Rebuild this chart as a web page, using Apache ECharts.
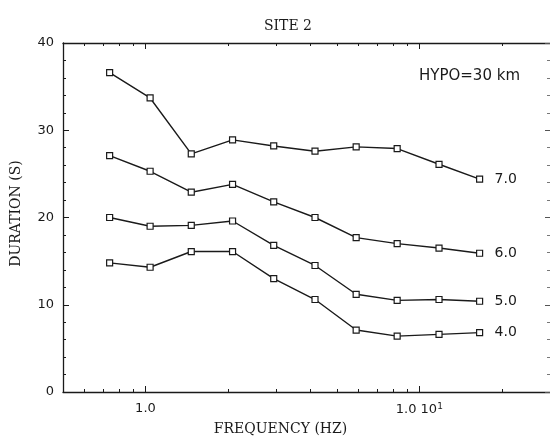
<!DOCTYPE html>
<html>
<head>
<meta charset="utf-8">
<script src="https://cdn.jsdelivr.net/npm/echarts@6/dist/echarts.min.js"></script>
<style>html,body{margin:0;padding:0;background:#fff;}#c{width:550px;height:443px;}</style>
</head>
<body>
<div id="c"></div>
<script>
// Frequencies (Hz)
var freqs = [0.74, 1.04, 1.47, 2.08, 2.94, 4.16, 5.88, 8.3, 11.8, 16.6];
// Magnitudes
var magLabels = ['7.0', '6.0', '5.0', '4.0'];
// Durations (s)
var dur70 = [36.6, 33.7, 27.3, 28.9, 28.2, 27.6, 28.1, 27.9, 26.1, 24.4];
var dur60 = [27.1, 25.3, 22.9, 23.8, 21.8, 20.0, 17.7, 17.0, 16.5, 15.9];
var dur50 = [20.0, 19.0, 19.1, 19.6, 16.8, 14.5, 11.2, 10.5, 10.6, 10.4];
var dur40 = [14.8, 14.3, 16.1, 16.1, 13.0, 10.6, 7.1, 6.4, 6.6, 6.8];
// Axis ticks
var xMajorTicks = [1, 10];
var xMinorTicks = [0.6, 0.7, 0.8, 0.9, 2, 3, 4, 5, 6, 7, 8, 9, 20];

var ink = '#1a1a1a';
var serif = '"DejaVu Serif", "Liberation Serif", serif';
var sans = '"DejaVu Sans", "Liberation Sans", sans-serif';

function pairs(ys) { return freqs.map(function (f, i) { return [f, ys[i]]; }); }
var allDur = [dur70, dur60, dur50, dur40];

var chart = echarts.init(document.getElementById('c'), null, {renderer: 'canvas'});

function xAxisDef(grid, pos, ticks, len, showLabel, showLine) {
  return {
    type: 'log', logBase: 10, min: 0.5, max: 30, position: pos, gridIndex: grid,
    axisLine: {show: showLine, onZero: false, lineStyle: {color: ink, width: 1.3}},
    axisTick: {show: true, inside: true, length: len, customValues: ticks, lineStyle: {color: ink, width: 1}},
    axisLabel: {show: showLabel, customValues: ticks, color: ink, fontFamily: sans, fontSize: 13, margin: 10,
      formatter: function (v) { return v >= 9.99 ? '1.0 10{sup|1}' : '1.0'; },
      rich: {sup: {fontSize: 9, verticalAlign: 'top', padding: [0, 0, 6, 0], color: ink, fontFamily: sans}}},
    splitLine: {show: false}, minorTick: {show: false}
  };
}

var series = allDur.map(function (d, k) {
  return {
    type: 'line', xAxisIndex: 0, yAxisIndex: 0, data: pairs(d),
    symbol: 'rect', symbolSize: 6, showAllSymbol: true,
    lineStyle: {color: ink, width: 1.4},
    itemStyle: {color: '#fff', borderColor: ink, borderWidth: 1.2},
    endLabel: {show: true, formatter: magLabels[k], distance: 15, color: ink, fontFamily: sans, fontSize: 14},
    emphasis: {disabled: true}, animation: false
  };
});

var gridBox = {left: 63, top: 43, right: 0, bottom: 51, containLabel: false};

chart.setOption({
  animation: false,
  backgroundColor: '#fff',
  title: {text: 'SITE 2', left: 283, top: 14, textAlign: 'center',
    textStyle: {fontFamily: serif, fontSize: 14, fontWeight: 'normal', color: ink}},
  grid: [Object.assign({}, gridBox), Object.assign({}, gridBox)],
  graphic: [{type: 'text', left: 419, top: 69,
    style: {text: 'HYPO=30 km', fontFamily: sans, fontSize: 15, fill: ink}}],
  xAxis: [
    Object.assign(xAxisDef(0, 'bottom', xMajorTicks, 6, true, true), {
      name: 'FREQUENCY (HZ)', nameLocation: 'middle', nameGap: 30,
      nameTextStyle: {fontFamily: serif, fontSize: 14, color: ink, padding: [0, 52, 0, 0]}}),
    xAxisDef(0, 'top', xMajorTicks, 6, false, true),
    xAxisDef(1, 'bottom', xMinorTicks, 3, false, false),
    xAxisDef(1, 'top', xMinorTicks, 3, false, false)
  ],
  yAxis: [
    {type: 'value', gridIndex: 0, min: 0, max: 40, interval: 10, position: 'left',
      name: 'DURATION (S)', nameLocation: 'middle', nameGap: 40, nameRotate: 90,
      nameTextStyle: {fontFamily: serif, fontSize: 14, color: ink, padding: [0, 0, 0, 8]},
      axisLine: {show: true, onZero: false, lineStyle: {color: ink, width: 1.3}},
      axisTick: {inside: true, length: 6, lineStyle: {color: ink}},
      minorTick: {show: true, splitNumber: 5, length: 3, lineStyle: {color: ink}},
      axisLabel: {color: ink, fontFamily: sans, fontSize: 13, margin: 9},
      splitLine: {show: false}},
    {type: 'value', gridIndex: 0, min: 0, max: 40, interval: 10, position: 'right',
      axisLine: {show: false, onZero: false},
      axisTick: {show: true, inside: true, length: 5, lineStyle: {color: '#555'}},
      minorTick: {show: true, splitNumber: 5, length: 3, lineStyle: {color: '#777'}},
      axisLabel: {show: false}, splitLine: {show: false}},
    {type: 'value', gridIndex: 1, min: 0, max: 40, interval: 10, show: false}
  ],
  series: series
});
</script>
</body>
</html>
